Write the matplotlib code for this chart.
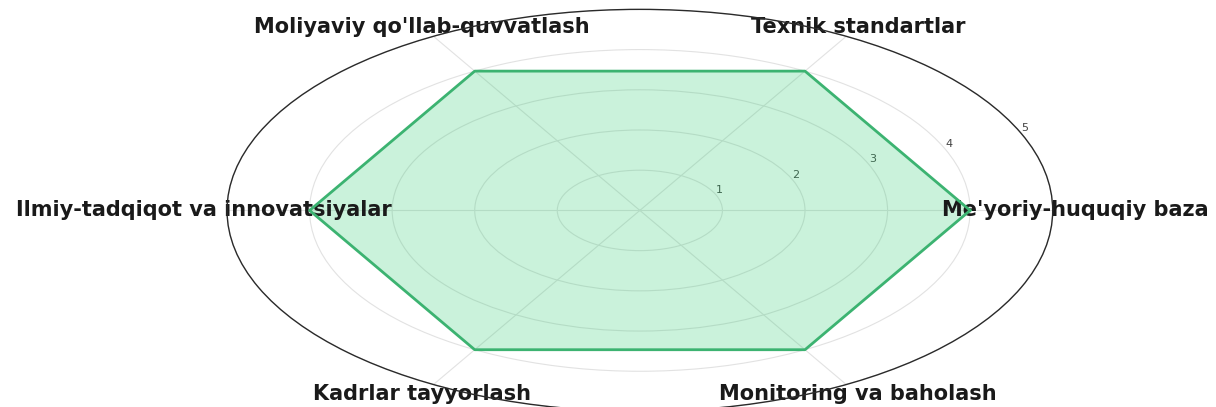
import numpy as np
import matplotlib
matplotlib.use('Agg')
from matplotlib import pyplot as plt

categories = ["Me'yoriy-huquqiy baza", "Texnik standartlar", "Moliyaviy qo'llab-quvvatlash",
              "Ilmiy-tadqiqot va innovatsiyalar", "Kadrlar tayyorlash", "Monitoring va baholash"]
values = [4, 4, 4, 4, 4, 4]
rticks = [1, 2, 3, 4, 5]

angles = np.linspace(0, 2 * np.pi, len(categories), endpoint=False).tolist()
vals = values + values[:1]
angs = angles + angles[:1]

fig = plt.figure(figsize=(12.16, 4.07), dpi=100)
ax = fig.add_axes([0.1867, -0.011, 0.679, 0.988], projection='polar')
ax.set_aspect('auto')
ax.set_axisbelow(True)

ax.fill(angs, vals, color='#2ecc71', alpha=0.25)
ax.plot(angs, vals, color='#3cb371', linewidth=2)

ax.set_ylim(0, 5)
ax.set_yticks(rticks)
ax.set_yticklabels([str(t) for t in rticks], fontsize=8, color='#444444')
ax.set_xticks(angles)
ax.set_xticklabels([])
# category labels centred just outside the outer ring, drawn under the ring line
for a, lab in zip(angles, categories):
    ax.text(a, 5.28, lab, ha='center', va='center', fontsize=15,
            fontweight='bold', color='#1a1a1a', clip_on=False, zorder=1.5)
ax.grid(color='#e2e2e2', linewidth=0.8)
ax.spines['polar'].set_color('#2a2a2a')
ax.spines['polar'].set_linewidth(1.0)
ax.spines['polar'].set_zorder(2.5)

fig.savefig('out.png', dpi=100, facecolor='white')
